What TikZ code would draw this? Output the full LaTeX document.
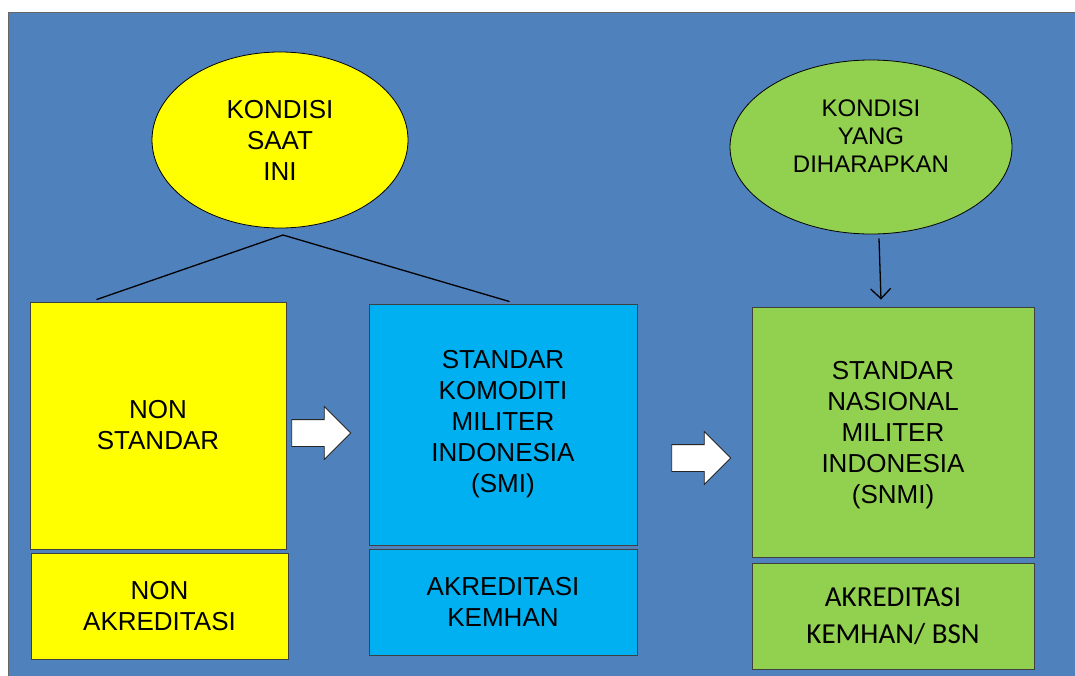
\documentclass[tikz,border=0pt]{standalone}
\usepackage{fontspec}
\setmainfont{Liberation Sans}
\newfontfamily\calfont{Carlito}
\usetikzlibrary{shapes.geometric,shapes.arrows,arrows.meta}
\definecolor{bgblue}{HTML}{4F81BD}
\definecolor{now}{HTML}{FFFF00}
\definecolor{smi}{HTML}{00B0F0}
\definecolor{goal}{HTML}{92D050}
\tikzset{
  oval/.style={ellipse, draw=black, line width=0.8pt, inner sep=0pt, align=center},
  box/.style={rectangle, draw=black!75, line width=0.9pt, inner sep=0pt, align=center,
    font=\fontsize{26}{31}\selectfont},
  wide/.style={single arrow, draw=black!85, fill=white, line width=0.8pt, inner sep=13pt,
    minimum height=59pt, single arrow head extend=13pt},
  link/.style={draw=black, line width=1.3pt},
}
\begin{document}
\begin{tikzpicture}[x=1pt,y=-1pt]
  \useasboundingbox (0,0) rectangle (1075,675);
  \fill[white] (0,0) rectangle (1075,675);
  \draw[fill=bgblue, draw=black!60, line width=0.8pt] (8,12) rectangle (1080,680);
  % ellipses
  \node[oval, fill=now, minimum width=256pt, minimum height=176pt,
    font=\fontsize{26}{31}\selectfont] (kini) at (280,140) {KONDISI\\SAAT\\INI};
  \node[oval, fill=goal, minimum width=282pt, minimum height=174pt] (harap) at (871,147) {};
  \node[align=center, font=\fontsize{24}{28}\selectfont] (harapt) at ([yshift=11pt]harap.center)
    {KONDISI\\YANG\\DIHARAPKAN};
  % boxes
  \node[box, fill=now, minimum width=256pt, minimum height=247pt] (nonstd) at (158,425.5) {NON\\STANDAR};
  \node[box, fill=now, minimum width=257pt, minimum height=106pt] (nonakr) at (159.5,606) {NON\\AKREDITASI};
  \node[box, fill=smi, minimum width=268pt, minimum height=241pt] (smibox) at (503,424.5)
    {STANDAR\\KOMODITI\\MILITER\\INDONESIA\\(SMI)};
  \node[box, fill=smi, minimum width=268pt, minimum height=106pt] (kemhan) at (503,602) {AKREDITASI\\KEMHAN};
  \node[box, fill=goal, minimum width=282pt, minimum height=250pt] (snmi) at (893,432)
    {\\[-6pt]STANDAR\\NASIONAL\\MILITER\\INDONESIA\\(SNMI)};
  \node[box, fill=goal, minimum width=282pt, minimum height=106pt,
    font=\calfont\fontsize{29}{37}\selectfont] (bsn) at (893,616) {AKREDITASI\\KEMHAN/ BSN};
  % arrows
  \node[wide] (a1) at (314.5,433) {};
  \node[wide] (a2) at (694.5,458) {};
  \coordinate (apex) at (283,235);
  \draw[link] (apex) -- ([xshift=67pt,yshift=2pt]nonstd.north west);
  \draw[link] (apex) -- ([xshift=141pt,yshift=2pt]smibox.north west);
  \draw[link, -{Straight Barb[length=10pt,width=20pt]}] ([xshift=8pt,yshift=-4pt]harap.south)
    -- ([xshift=-12pt,yshift=7pt]snmi.north);
\end{tikzpicture}
\end{document}
